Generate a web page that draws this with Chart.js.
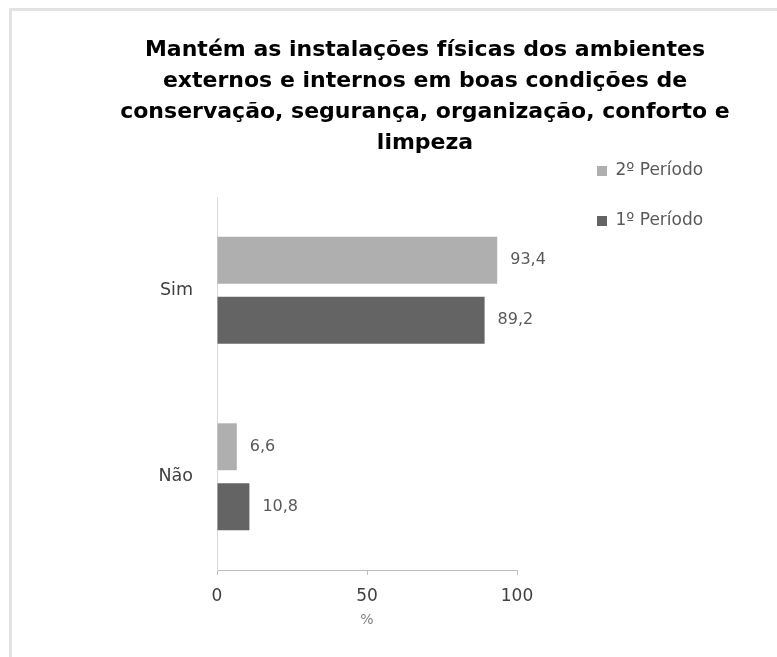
<!DOCTYPE html>
<html>
<head>
<meta charset="utf-8">
<script src="https://cdn.jsdelivr.net/npm/chart.js@4"></script>
<style>
  html, body { margin: 0; padding: 0; background: #fff; }
  #wrap { position: relative; width: 777px; height: 657px; overflow: hidden; }
  #frame {
    position: absolute; left: 9px; top: 8px; width: 800px; height: 700px;
    border-left: 3px solid #e3e3e3; border-top: 3px solid #e3e3e3;
    pointer-events: none;
  }
</style>
</head>
<body>
<div id="wrap">
  <canvas id="barChart" width="777" height="657"></canvas>
  <div id="frame"></div>
</div>
<script>
const titleLines = [
    "Mantém as instalações físicas dos ambientes",
    "externos e internos em boas condições de",
    "conservação, segurança, organização, conforto e",
    "limpeza"
];
const categories = ["Sim", "Não"];
const seriesNames = ["2º Período", "1º Período"];
const periodo2 = [93.4, 6.6];
const periodo1 = [89.2, 10.8];
const xTicks = [0, 50, 100];
const axisTitle = "%";

const colors = ["#afafaf", "#646464"];
const textFont = "'DejaVu Sans', Verdana, sans-serif";

// rótulos de valor no fim de cada barra
const valueLabels = {
    id: "valueLabels",
    afterDatasetsDraw(chart) {
        const ctx = chart.ctx;
        ctx.save();
        ctx.font = "16px " + textFont;
        ctx.fillStyle = "#595959";
        ctx.textAlign = "left";
        ctx.textBaseline = "middle";
        chart.data.datasets.forEach((ds, i) => {
            chart.getDatasetMeta(i).data.forEach((bar, j) => {
                const txt = ds.data[j].toFixed(1).replace(".", ",");
                ctx.fillText(txt, bar.x + 13, bar.y);
            });
        });
        ctx.restore();
    }
};

// posiciona título e legenda como no original
const placeBoxes = {
    id: "placeBoxes",
    afterLayout(chart) {
        const tb = chart.titleBlock;
        if (tb) {
            tb.left = 73;
            tb.right = chart.width;
            tb.width = tb.right - tb.left;
        }
        const lg = chart.legend;
        const area = chart.chartArea;
        if (lg) {
            lg.left = area.right + 47;
            lg.top = area.top - 67.5;
            lg.right = lg.left + lg.width;
            lg.bottom = lg.top + lg.height;
        }
    }
};

new Chart(document.getElementById("barChart").getContext("2d"), {
    type: "bar",
    data: {
        labels: categories,
        datasets: [
            { label: seriesNames[0], data: periodo2, backgroundColor: colors[0] },
            { label: seriesNames[1], data: periodo1, backgroundColor: colors[1] }
        ]
    },
    options: {
        indexAxis: "y",
        responsive: false,
        animation: false,
        categoryPercentage: 0.643,
        barPercentage: 0.783,
        layout: { padding: { left: 0, right: 260, top: 0, bottom: 0 } },
        plugins: {
            tooltip: { enabled: false },
            title: {
                display: true,
                text: titleLines,
                color: "#000",
                font: { family: "'DejaVu Sans', sans-serif", size: 22, weight: "bold", lineHeight: 31 / 22 },
                padding: { top: 34.5, bottom: 38.5 }
            },
            legend: {
                position: "chartArea",
                align: "start",
                labels: {
                    boxWidth: 10,
                    boxHeight: 10,
                    padding: 33,
                    color: "#595959",
                    font: { family: textFont, size: 17 }
                }
            }
        },
        scales: {
            x: {
                min: 0,
                max: 100,
                afterBuildTicks(scale) {
                    scale.ticks = xTicks.map(v => ({ value: v }));
                },
                afterFit(scale) { scale.height = 87; },
                grid: { display: true, drawOnChartArea: false, tickLength: 5, color: "#bfbfbf" },
                border: { display: true, color: "#bfbfbf" },
                ticks: { color: "#404040", padding: 11, font: { family: textFont, size: 17 } },
                title: {
                    display: true,
                    text: axisTitle,
                    color: "#7f7f7f",
                    font: { family: textFont, size: 14 },
                    padding: { top: 4, bottom: 28 }
                }
            },
            y: {
                afterFit(scale) { scale.width = 217; },
                grid: { display: false, drawTicks: false },
                border: { display: true, color: "#d9d9d9" },
                ticks: { color: "#404040", padding: 24, font: { family: textFont, size: 17.5 } }
            }
        }
    },
    plugins: [valueLabels, placeBoxes]
});
</script>
</body>
</html>
